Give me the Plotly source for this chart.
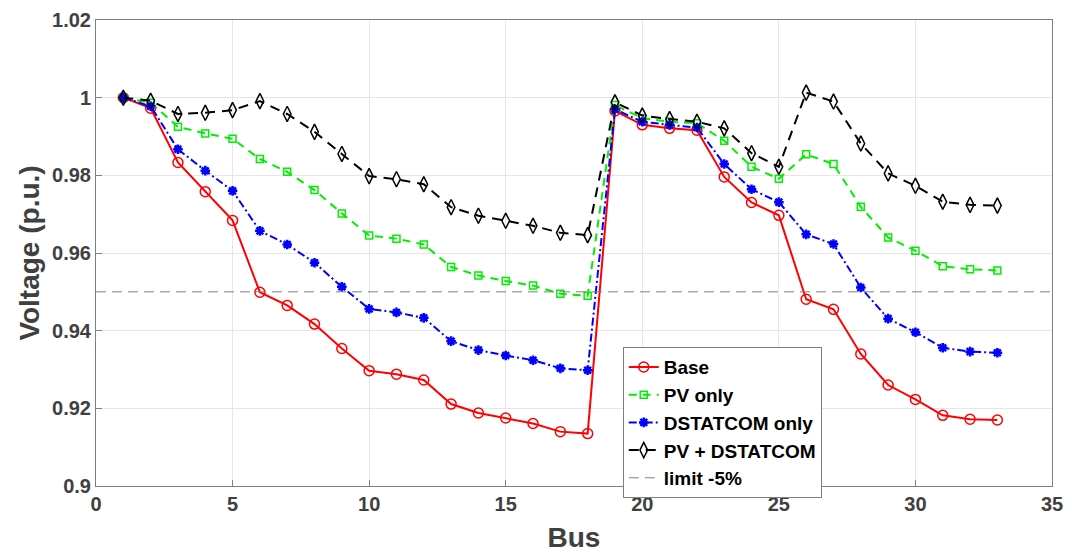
import plotly.graph_objects as go

bus = list(range(1, 34))

base = [1.0, 0.9973, 0.9833, 0.9758, 0.9684, 0.9499, 0.9465, 0.9417, 0.9354, 0.9297,
        0.9288, 0.9273, 0.9211, 0.9188, 0.9175, 0.9161, 0.9140, 0.9135,
        0.9966, 0.9930, 0.9921, 0.9916, 0.9796, 0.9730, 0.9697, 0.9481, 0.9455,
        0.9340, 0.9260, 0.9223, 0.9182, 0.9172, 0.9170]

pv_only = [1.0, 0.9987, 0.9925, 0.9908, 0.9894, 0.9842, 0.9809, 0.9762, 0.9702, 0.9645,
           0.9637, 0.9622, 0.9564, 0.9542, 0.9528, 0.9516, 0.9495, 0.9490,
           0.9981, 0.9947, 0.9938, 0.9934, 0.9889, 0.9822, 0.9791, 0.9854, 0.9829,
           0.9719, 0.9640, 0.9606, 0.9566, 0.9558, 0.9555]

dstatcom_only = [1.0, 0.9978, 0.9867, 0.9812, 0.9760, 0.9657, 0.9622, 0.9575, 0.9513, 0.9456,
                 0.9447, 0.9433, 0.9373, 0.9350, 0.9336, 0.9324, 0.9303, 0.9298,
                 0.9970, 0.9938, 0.9930, 0.9923, 0.9829, 0.9764, 0.9731, 0.9648, 0.9623,
                 0.9511, 0.9431, 0.9396, 0.9356, 0.9346, 0.9343]

pv_dstatcom = [1.0, 0.9992, 0.9958, 0.9961, 0.9968, 0.9991, 0.9958, 0.9912, 0.9855, 0.9798,
               0.9790, 0.9777, 0.9718, 0.9696, 0.9683, 0.9670, 0.9652, 0.9646,
               0.9988, 0.9954, 0.9945, 0.9938, 0.9921, 0.9857, 0.9822, 1.0013, 0.9990,
               0.9882, 0.9805, 0.9773, 0.9732, 0.9724, 0.9722]

limit_x = [0, 35]
limit_y = [0.95, 0.95]

y_tickvals = [0.9, 0.92, 0.94, 0.96, 0.98, 1.0, 1.02]
y_ticktext = ["0.9", "0.92", "0.94", "0.96", "0.98", "1", "1.02"]
x_tickvals = [0, 5, 10, 15, 20, 25, 30, 35]
x_ticktext = [str(v) for v in x_tickvals]

FONT = "Liberation Sans, Arial, sans-serif"
TXT = "#404040"

fig = go.Figure()
fig.add_trace(go.Scatter(
    x=bus, y=base, name="<b>Base</b>", mode="lines+markers",
    line=dict(color="#ff0000", width=2, dash="solid"),
    marker=dict(symbol="circle-open", size=10, color="#ff0000", line=dict(width=1.5, color="#ff0000"))))
fig.add_trace(go.Scatter(
    x=bus, y=pv_only, name="<b>PV only</b>", mode="lines+markers",
    line=dict(color="#00ee00", width=2, dash="8px,6px"),
    marker=dict(symbol="square-open", size=7, color="#00ee00", line=dict(width=1.5, color="#00ee00"))))
fig.add_trace(go.Scatter(
    x=bus, y=dstatcom_only, name="<b>DSTATCOM only</b>", mode="lines+markers",
    line=dict(color="#0000ff", width=2, dash="8px,3px,2px,3px"),
    marker=dict(symbol="asterisk-open", size=8, color="#0000ff", line=dict(width=2.5, color="#0000ff"))))
fig.add_trace(go.Scatter(
    x=bus, y=pv_dstatcom, name="<b>PV + DSTATCOM</b>", mode="lines+markers",
    line=dict(color="#000000", width=2, dash="10px,7px"),
    marker=dict(symbol="diamond-tall-open", size=11, color="#000000", line=dict(width=1.5, color="#000000"))))
fig.add_trace(go.Scatter(
    x=limit_x, y=limit_y, name="<b>limit -5%</b>", mode="lines",
    line=dict(color="#808080", width=1, dash="10px,6px")))

axis_common = dict(
    showline=True, linecolor="#7f7f7f", linewidth=1, mirror=True,
    ticks="inside", ticklen=6, tickcolor="#7f7f7f",
    showgrid=True, gridcolor="#e6e6e6", gridwidth=1, zeroline=False,
    tickfont=dict(family=FONT, size=20, color=TXT),
    automargin=False,
)

fig.update_layout(
    width=1072, height=553,
    margin=dict(l=96, r=20, t=20, b=67),
    paper_bgcolor="white", plot_bgcolor="white",
    font=dict(family=FONT, color=TXT),
    showlegend=True,
    legend=dict(
        x=0.551, y=0.298, xanchor="left", yanchor="top",
        bgcolor="white", bordercolor="#7f7f7f", borderwidth=1,
        font=dict(family=FONT, size=19, color="#000000"),
        tracegroupgap=0, itemwidth=30,
    ),
    xaxis=dict(range=[0, 35], tickvals=x_tickvals,
               ticktext=["<b>" + t + "</b>" for t in x_ticktext],
               title=dict(text="<b>Bus</b>", font=dict(family=FONT, size=28, color=TXT), standoff=14),
               **axis_common),
    yaxis=dict(range=[0.9, 1.02], tickvals=y_tickvals,
               ticktext=["<b>" + t + "</b>" for t in y_ticktext],
               title=dict(text="<b>Voltage (p.u.)</b>", font=dict(family=FONT, size=28, color=TXT), standoff=4),
               **axis_common),
)

fig.write_html("out.html")
